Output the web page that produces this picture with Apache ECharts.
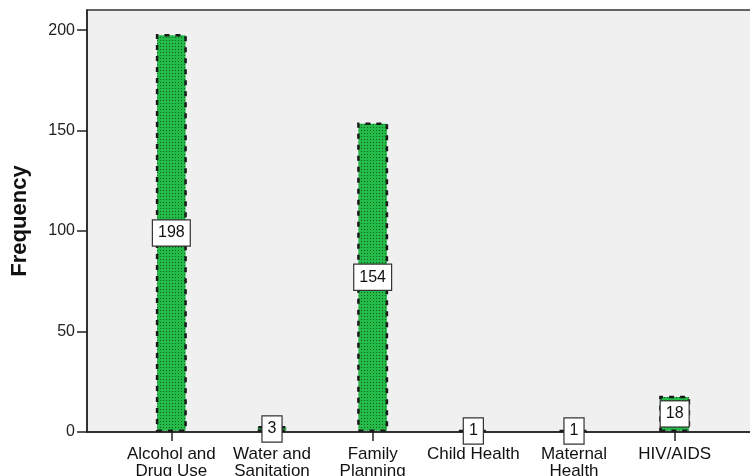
<!DOCTYPE html>
<html>
<head>
<meta charset="utf-8">
<script src="https://cdn.jsdelivr.net/npm/echarts@6/dist/echarts.min.js"></script>
<style>
html,body{margin:0;padding:0;background:#fff;}
#chart{width:750px;height:476px;}
</style>
</head>
<body>
<div id="chart"></div>
<script>
const categories = ['Alcohol and\nDrug Use', 'Water and\nSanitation', 'Family\nPlanning', 'Child Health', 'Maternal\nHealth', 'HIV/AIDS'];
const frequencies = [198, 3, 154, 1, 1, 18];
const yTicks = [0, 50, 100, 150, 200];
const yMax = 210;

// dotted green fill pattern
const pc = document.createElement('canvas');
pc.width = 3; pc.height = 3;
const pctx = pc.getContext('2d');
pctx.fillStyle = '#24bb48';
pctx.fillRect(0, 0, 3, 3);
pctx.fillStyle = '#145f26';
pctx.fillRect(1, 1, 1, 1);

const font = '"Liberation Sans", Arial, sans-serif';
const chart = echarts.init(document.getElementById('chart'), null, {renderer: 'canvas'});
chart.setOption({
  animation: false,
  backgroundColor: '#ffffff',
  textStyle: {fontFamily: font},
  grid: [
    {left: 87, top: 10, width: 690, bottom: 44, outerBoundsMode: 'none', containLabel: false,
     show: true, backgroundColor: '#f0f0f0', borderColor: '#333', borderWidth: 1.5},
    {left: 121, top: 10, right: 25, bottom: 44, outerBoundsMode: 'none', containLabel: false}
  ],
  xAxis: [
    {gridIndex: 0, type: 'value', min: 0, max: 1, axisLine: {show: true, onZero: false, lineStyle: {color: '#222', width: 1.5}},
     axisTick: {show: false}, axisLabel: {show: false}, splitLine: {show: false}},
    {gridIndex: 1, type: 'category', data: categories,
     axisLine: {show: false}, axisTick: {show: true, alignWithLabel: true, length: 9, lineStyle: {color: '#222', width: 1.5}},
     axisLabel: {fontSize: 17, color: '#111', margin: 14, lineHeight: 17, fontFamily: font, interval: 0}}
  ],
  yAxis: [
    {gridIndex: 0, type: 'value', min: 0, max: yMax, interval: 50,
     name: 'Frequency', nameLocation: 'middle', nameRotate: 90, nameGap: 56,
     nameTextStyle: {fontSize: 22, fontWeight: 'bold', color: '#111', fontFamily: font},
     axisLine: {show: true, lineStyle: {color: '#222', width: 1.5}},
     axisTick: {show: true, length: 10, customValues: yTicks, lineStyle: {color: '#222', width: 1.5}},
     axisLabel: {fontSize: 16, color: '#222', margin: 12, customValues: yTicks, fontFamily: font},
     splitLine: {show: false}},
    {gridIndex: 1, type: 'value', min: 0, max: yMax, show: false, splitLine: {show: false}}
  ],
  series: [{
    type: 'bar',
    xAxisIndex: 1, yAxisIndex: 1,
    data: frequencies,
    barWidth: 31,
    itemStyle: {color: {image: pc, repeat: 'repeat'}, borderColor: '#1a1a1a', borderWidth: 2.5, borderType: [5, 6]},
    label: {show: true, position: 'inside', fontSize: 16, color: '#111', fontFamily: font,
      backgroundColor: '#ffffff', borderColor: '#333', borderWidth: 1.2, padding: [5, 5, 4, 5]}
  }]
});
</script>
</body>
</html>
